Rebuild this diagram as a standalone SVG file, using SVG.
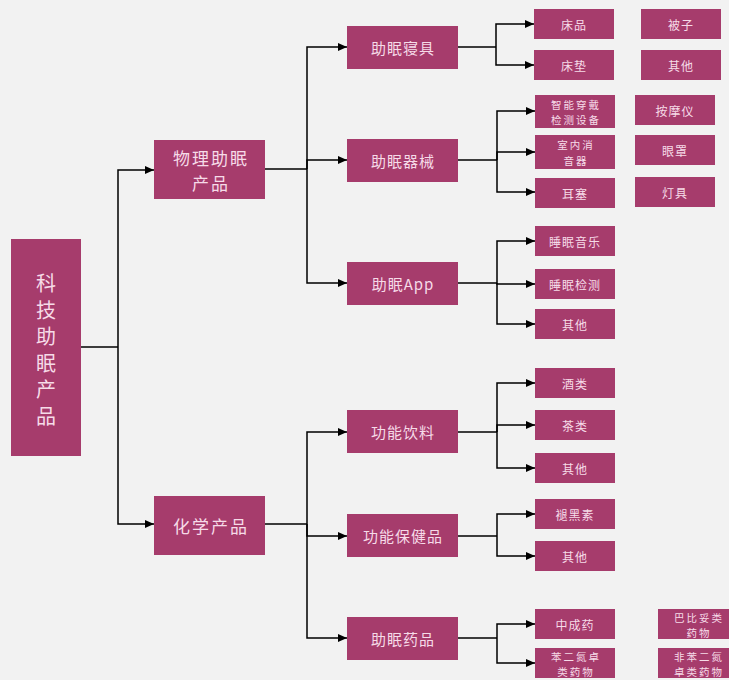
<svg xmlns="http://www.w3.org/2000/svg" width="729" height="680" viewBox="0 0 729 680">
<style>
.b{fill:#a63c6c}
.t{fill:#f6dbe8;font-family:"Noto Sans CJK SC","Noto Sans CJK JP",sans-serif;text-anchor:middle;dominant-baseline:central}
.s{font-size:12px;letter-spacing:1px}
.d{font-size:10.5px;letter-spacing:2px}
.m{font-size:15px;letter-spacing:1px}
.l{font-size:17px;letter-spacing:2px}
.r{font-size:20px}
.c{fill:none;stroke:#000;stroke-width:1.5}
</style>
<defs>
<marker id="a" markerUnits="userSpaceOnUse" markerWidth="9" markerHeight="8" refX="9" refY="4" orient="auto"><path d="M0,0 L9,4 L0,8 z" fill="#000"/></marker>
</defs>
<rect width="729" height="680" fill="#f2f2f2"/>
<g id="connectors">
<path class="c" d="M81,347 H118"/>
<path class="c" d="M118,347 V170 H154" marker-end="url(#a)"/>
<path class="c" d="M118,347 V524 H154" marker-end="url(#a)"/>
<path class="c" d="M265,169 H307"/>
<path class="c" d="M307,169 V47 H347" marker-end="url(#a)"/>
<path class="c" d="M307,169 V160 H347" marker-end="url(#a)"/>
<path class="c" d="M307,169 V283 H347" marker-end="url(#a)"/>
<path class="c" d="M265,524 H307"/>
<path class="c" d="M307,524 V432 H347" marker-end="url(#a)"/>
<path class="c" d="M307,524 V536 H347" marker-end="url(#a)"/>
<path class="c" d="M307,524 V638 H347" marker-end="url(#a)"/>
<path class="c" d="M458,47 H496"/>
<path class="c" d="M496,47 V24 H534" marker-end="url(#a)"/>
<path class="c" d="M496,47 V65 H534" marker-end="url(#a)"/>
<path class="c" d="M458,160 H497"/>
<path class="c" d="M497,160 V111 H535" marker-end="url(#a)"/>
<path class="c" d="M497,160 V152 H535" marker-end="url(#a)"/>
<path class="c" d="M497,160 V192 H535" marker-end="url(#a)"/>
<path class="c" d="M458,283 H497"/>
<path class="c" d="M497,283 V241 H535" marker-end="url(#a)"/>
<path class="c" d="M497,283 V284 H535" marker-end="url(#a)"/>
<path class="c" d="M497,283 V324 H535" marker-end="url(#a)"/>
<path class="c" d="M458,432 H497"/>
<path class="c" d="M497,432 V383 H535" marker-end="url(#a)"/>
<path class="c" d="M497,432 V425 H535" marker-end="url(#a)"/>
<path class="c" d="M497,432 V468 H535" marker-end="url(#a)"/>
<path class="c" d="M458,536 H497"/>
<path class="c" d="M497,536 V514 H535" marker-end="url(#a)"/>
<path class="c" d="M497,536 V556 H535" marker-end="url(#a)"/>
<path class="c" d="M458,638 H497"/>
<path class="c" d="M497,638 V624 H535" marker-end="url(#a)"/>
<path class="c" d="M497,638 V663 H535" marker-end="url(#a)"/>
</g>
<g id="root"><rect class="b" x="11" y="239" width="70" height="217"/>
<text class="t r" x="46"><tspan x="46" y="282">科</tspan><tspan x="46" y="308.5">技</tspan><tspan x="46" y="335">助</tspan><tspan x="46" y="361.5">眠</tspan><tspan x="46" y="388">产</tspan><tspan x="46" y="414.5">品</tspan></text></g>
<g id="n-physical"><rect class="b" x="154" y="140" width="111" height="59"/>
<text class="t l"><tspan x="211" y="157">物理助眠</tspan><tspan x="211" y="182">产品</tspan></text></g>
<g id="n-chemical"><rect class="b" x="154" y="496" width="111" height="59"/><text class="t l" x="211" y="525">化学产品</text></g>
<g id="n-bedding"><rect class="b" x="347" y="26" width="111" height="43"/><text class="t m" x="403" y="47.5">助眠寝具</text></g>
<g id="n-device"><rect class="b" x="347" y="139" width="111" height="43"/><text class="t m" x="403" y="160.5">助眠器械</text></g>
<g id="n-app"><rect class="b" x="347" y="262" width="111" height="43"/><text class="t m" x="403" y="283.5">助眠App</text></g>
<g id="n-drink"><rect class="b" x="347" y="410" width="111" height="43"/><text class="t m" x="403" y="431.5">功能饮料</text></g>
<g id="n-health"><rect class="b" x="347" y="514" width="111" height="43"/><text class="t m" x="403" y="535.5">功能保健品</text></g>
<g id="n-drug"><rect class="b" x="347" y="617" width="111" height="43"/><text class="t m" x="403" y="638.5">助眠药品</text></g>
<g id="n-chuangpin"><rect class="b" x="534" y="9" width="80" height="30"/><text class="t s" x="574" y="24">床品</text></g>
<g id="n-chuangdian"><rect class="b" x="534" y="50" width="80" height="30"/><text class="t s" x="574" y="65">床垫</text></g>
<g id="n-beizi"><rect class="b" x="641" y="9" width="80" height="30"/><text class="t s" x="681" y="24">被子</text></g>
<g id="n-qita1"><rect class="b" x="641" y="50" width="80" height="30"/><text class="t s" x="681" y="65">其他</text></g>
<g id="n-wearable"><rect class="b" x="535" y="95" width="80" height="33"/><text class="t d"><tspan x="576" y="104">智能穿戴</tspan><tspan x="576" y="119">检测设备</tspan></text></g>
<g id="n-muffler"><rect class="b" x="535" y="135" width="80" height="34"/><text class="t d"><tspan x="576" y="144">室内消</tspan><tspan x="576" y="160">音器</tspan></text></g>
<g id="n-earplug"><rect class="b" x="535" y="178" width="80" height="30"/><text class="t s" x="575" y="193">耳塞</text></g>
<g id="n-massage"><rect class="b" x="635" y="95" width="80" height="30"/><text class="t s" x="675" y="110">按摩仪</text></g>
<g id="n-eyemask"><rect class="b" x="635" y="135" width="80" height="30"/><text class="t s" x="675" y="150">眼罩</text></g>
<g id="n-lamp"><rect class="b" x="635" y="177" width="80" height="30"/><text class="t s" x="675" y="192">灯具</text></g>
<g id="n-music"><rect class="b" x="535" y="226" width="80" height="30"/><text class="t s" x="575" y="241">睡眠音乐</text></g>
<g id="n-monitor"><rect class="b" x="535" y="269" width="80" height="30"/><text class="t s" x="575" y="284">睡眠检测</text></g>
<g id="n-qita2"><rect class="b" x="535" y="309" width="80" height="30"/><text class="t s" x="575" y="324">其他</text></g>
<g id="n-wine"><rect class="b" x="535" y="368" width="80" height="30"/><text class="t s" x="575" y="383">酒类</text></g>
<g id="n-tea"><rect class="b" x="535" y="410" width="80" height="30"/><text class="t s" x="575" y="425">茶类</text></g>
<g id="n-qita3"><rect class="b" x="535" y="453" width="80" height="30"/><text class="t s" x="575" y="468">其他</text></g>
<g id="n-melatonin"><rect class="b" x="535" y="499" width="80" height="30"/><text class="t s" x="575" y="514">褪黑素</text></g>
<g id="n-qita4"><rect class="b" x="535" y="541" width="80" height="30"/><text class="t s" x="575" y="556">其他</text></g>
<g id="n-tcm"><rect class="b" x="535" y="609" width="80" height="30"/><text class="t s" x="575" y="624">中成药</text></g>
<g id="n-bzd"><rect class="b" x="535" y="648" width="80" height="30"/><text class="t d"><tspan x="576" y="656">苯二氮卓</tspan><tspan x="576" y="671">类药物</tspan></text></g>
<g id="n-barb"><rect class="b" x="658" y="609" width="80" height="30"/><text class="t d"><tspan x="699" y="617">巴比妥类</tspan><tspan x="699" y="632">药物</tspan></text></g>
<g id="n-nonbzd"><rect class="b" x="658" y="648" width="80" height="30"/><text class="t d"><tspan x="699" y="656">非苯二氮</tspan><tspan x="699" y="671">卓类药物</tspan></text></g>
</svg>
